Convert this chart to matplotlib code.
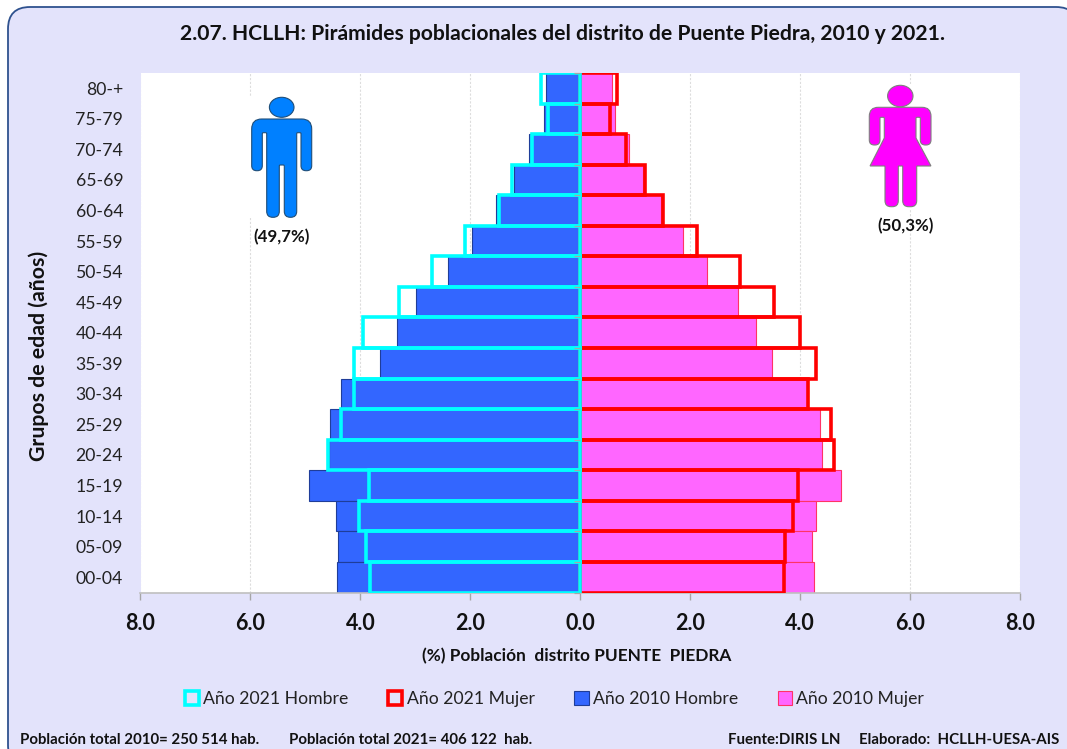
import matplotlib
matplotlib.use("Agg")
import matplotlib.pyplot as plt
from matplotlib.patches import FancyBboxPatch, PathPatch, Ellipse, Rectangle, Patch
from matplotlib.path import Path
from matplotlib.transforms import Affine2D
from matplotlib.ticker import FuncFormatter
import numpy as np

FONT = "Lato"
plt.rcParams["font.family"] = [FONT, "DejaVu Sans"]

age_groups = ["80-+", "75-79", "70-74", "65-69", "60-64", "55-59", "50-54", "45-49", "40-44",
              "35-39", "30-34", "25-29", "20-24", "15-19", "10-14", "05-09", "00-04"]
men_2021 = [0.72, 0.58, 0.885, 1.24, 1.485, 2.09, 2.70, 3.30, 3.95, 4.115, 4.115, 4.36, 4.58, 3.84, 4.03, 3.89, 3.82]
men_2010 = [0.62, 0.66, 0.93, 1.21, 1.54, 1.97, 2.40, 2.99, 3.33, 3.65, 4.36, 4.55, 4.57, 4.94, 4.45, 4.41, 4.42]
women_2021 = [0.66, 0.535, 0.83, 1.17, 1.50, 2.12, 2.91, 3.52, 3.99, 4.28, 4.15, 4.56, 4.62, 3.97, 3.87, 3.73, 3.70]
women_2010 = [0.585, 0.63, 0.88, 1.14, 1.475, 1.875, 2.31, 2.87, 3.20, 3.49, 4.12, 4.36, 4.40, 4.75, 4.28, 4.22, 4.25]
x_ticks = [-8, -6, -4, -2, 0, 2, 4, 6, 8]

W, H = 1067, 749
fig = plt.figure(figsize=(W / 100, H / 100), dpi=100, facecolor="white")
PX = Affine2D().scale(1, -1).translate(0, H)   # pixel coordinates, y from the top


def rounded_path(pts):
    verts, codes = [], []
    n = len(pts)
    for i, (x, y, r) in enumerate(pts):
        px, py, _ = pts[i - 1]
        nx, ny, _ = pts[(i + 1) % n]
        a = np.array([px - x, py - y], float)
        b = np.array([nx - x, ny - y], float)
        a = a / np.hypot(*a)
        b = b / np.hypot(*b)
        p1 = (x + a[0] * r, y + a[1] * r)
        p2 = (x + b[0] * r, y + b[1] * r)
        verts.append(p1)
        codes.append(Path.MOVETO if i == 0 else Path.LINETO)
        verts += [(x, y), p2]
        codes += [Path.CURVE3, Path.CURVE3]
    verts.append(verts[0])
    codes.append(Path.CLOSEPOLY)
    return Path(verts, codes)


panel = FancyBboxPatch((8, 7), 1070, 760, boxstyle="round,pad=0,rounding_size=22",
                       transform=PX, facecolor="#E3E3FB", edgecolor="#2F528F", linewidth=1.3, zorder=-5)
fig.add_artist(panel)

ax = fig.add_axes([140.5 / W, 1 - 592.5 / H, (1020 - 140.5) / W, (592.5 - 73) / H], facecolor="white")
y = np.arange(len(age_groups))

ax.barh(y, -np.array(men_2010), height=1, facecolor="#3366FF", edgecolor="#1F3D99", linewidth=0.8, zorder=2)
ax.barh(y, women_2010, height=1, facecolor="#FF66FF", edgecolor="#FF3366", linewidth=0.8, zorder=2)
ax.barh(y, women_2021, height=1, facecolor="none", edgecolor="#FF0000", linewidth=2.6, zorder=3)
ax.barh(y, -np.array(men_2021), height=1, facecolor="none", edgecolor="#00FFFF", linewidth=2.6, zorder=4)

ax.set_xlim(-8, 8)
ax.set_ylim(len(age_groups) - 0.5, -0.5)
ax.set_xticks(x_ticks)
ax.xaxis.set_major_formatter(FuncFormatter(lambda v, _: f"{abs(v):.1f}"))
ax.set_yticks(y, age_groups)
ax.tick_params(axis="y", length=0, pad=12.5, labelsize=12.7, labelcolor="#222222")
ax.tick_params(axis="x", length=5, width=1, color="#A6A6A6", pad=10, labelsize=15.5, labelcolor="#111111")
for lab in ax.get_xticklabels():
    lab.set_fontweight("bold")
ax.grid(axis="x", color="#DDDDDD", linestyle=(0, (2, 1.5)), linewidth=0.8)
ax.set_axisbelow(True)
for s in ["top", "left", "right"]:
    ax.spines[s].set_visible(False)
ax.spines["bottom"].set_color("#BFBFBF")
ax.spines["bottom"].set_linewidth(1.2)

sec = ax.secondary_yaxis(0.5)
sec.set_yticks(np.arange(len(age_groups) + 1) - 0.5, [""] * (len(age_groups) + 1))
sec.yaxis.set_ticks_position("left")
sec.tick_params(axis="y", length=4, width=0.9, color="#A6A6A6")
for s in sec.spines.values():
    s.set_visible(False)
sec.set_zorder(5)

# white boxes of the pictograms mask the gridlines
ax.add_patch(Rectangle((244, 97), 76, 121, transform=PX, facecolor="white", edgecolor="none", zorder=1))
ax.add_patch(Rectangle((862, 84), 76, 125, transform=PX, facecolor="white", edgecolor="none", zorder=1))

# man pictogram
man = [(251.7, 119, 10), (311.7, 119, 10), (311.7, 170.7, 5), (301, 170.7, 5), (301, 132.7, 1),
       (296.7, 132.7, 1), (296.7, 217.3, 6), (284.3, 217.3, 6), (284.3, 165, 1), (279.3, 165, 1),
       (279.3, 217.3, 6), (266.7, 217.3, 6), (266.7, 132.7, 1), (262.3, 132.7, 1), (262.3, 170.7, 5),
       (251.7, 170.7, 5)]
style_m = dict(transform=PX, facecolor="#0080FF", edgecolor="#1F4E79", linewidth=0.8, zorder=6, clip_on=False)
ax.add_patch(PathPatch(rounded_path(man), **style_m))
ax.add_patch(Ellipse((281.7, 107.3), 24.6, 20, **style_m))

# woman pictogram
woman = [(869.3, 107.3, 9), (931, 107.3, 9), (931, 145, 5), (920.3, 145, 5), (920.3, 117.3, 1),
         (916, 117.3, 1), (916, 138, 0.5), (931, 166, 0.5), (916.7, 166, 0.5), (916.7, 206.7, 6),
         (902.7, 206.7, 6), (902.7, 166, 0.5), (898.3, 166, 0.5), (898.3, 206.7, 6), (885, 206.7, 6),
         (885, 166, 0.5), (870, 166, 0.5), (884.3, 138, 0.5), (884.3, 117.3, 1), (880, 117.3, 1),
         (880, 145, 5), (869.3, 145, 5)]
style_w = dict(transform=PX, facecolor="#FF00FF", edgecolor="#7F7F7F", linewidth=0.8, zorder=6, clip_on=False)
ax.add_patch(PathPatch(rounded_path(woman), **style_w))
ax.add_patch(Ellipse((900.3, 96), 25.4, 21.4, **style_w))


def label(x, yy, s, size, ha="center", rotation=0, weight="bold", color="#111111"):
    fig.text(x, yy, s, transform=PX, fontsize=size, ha=ha, va="center", rotation=rotation,
             fontweight=weight, color=color, zorder=10)


label(563, 33.5, "2.07. HCLLH: Pirámides poblacionales del distrito de Puente Piedra, 2010 y 2021.", 15.2)
label(282, 237, "(49,7%)", 12.2)
label(906, 226, "(50,3%)", 12.2)
label(39, 355.5, "Grupos de edad (años)", 15.3, rotation=90)
label(576.5, 656, "(%) Población  distrito PUENTE  PIEDRA", 12.4)
label(20, 740, "Población total 2010= 250 514 hab.", 10.8, ha="left")
label(289, 740, "Población total 2021= 406 122  hab.", 10.8, ha="left")
label(728, 740, "Fuente:DIRIS LN", 10.8, ha="left")
label(859, 740, "Elaborado:  HCLLH-UESA-AIS", 10.8, ha="left")

handles = [Patch(facecolor="none", edgecolor="#00FFFF", linewidth=2.6, label="Año 2021 Hombre"),
           Patch(facecolor="none", edgecolor="#FF0000", linewidth=2.6, label="Año 2021 Mujer"),
           Patch(facecolor="#3366FF", edgecolor="#1F3D99", linewidth=0.8, label="Año 2010 Hombre"),
           Patch(facecolor="#FF66FF", edgecolor="#FF3366", linewidth=0.8, label="Año 2010 Mujer")]
fig.legend(handles=handles, ncol=4, loc="center", bbox_to_anchor=(554.5 / W, 1 - 699 / H), frameon=False,
           fontsize=12.7, handlelength=0.8, handleheight=0.8, handletextpad=0.25, columnspacing=2.25,
           labelcolor="#222222")

fig.savefig("out.png", dpi=100)
